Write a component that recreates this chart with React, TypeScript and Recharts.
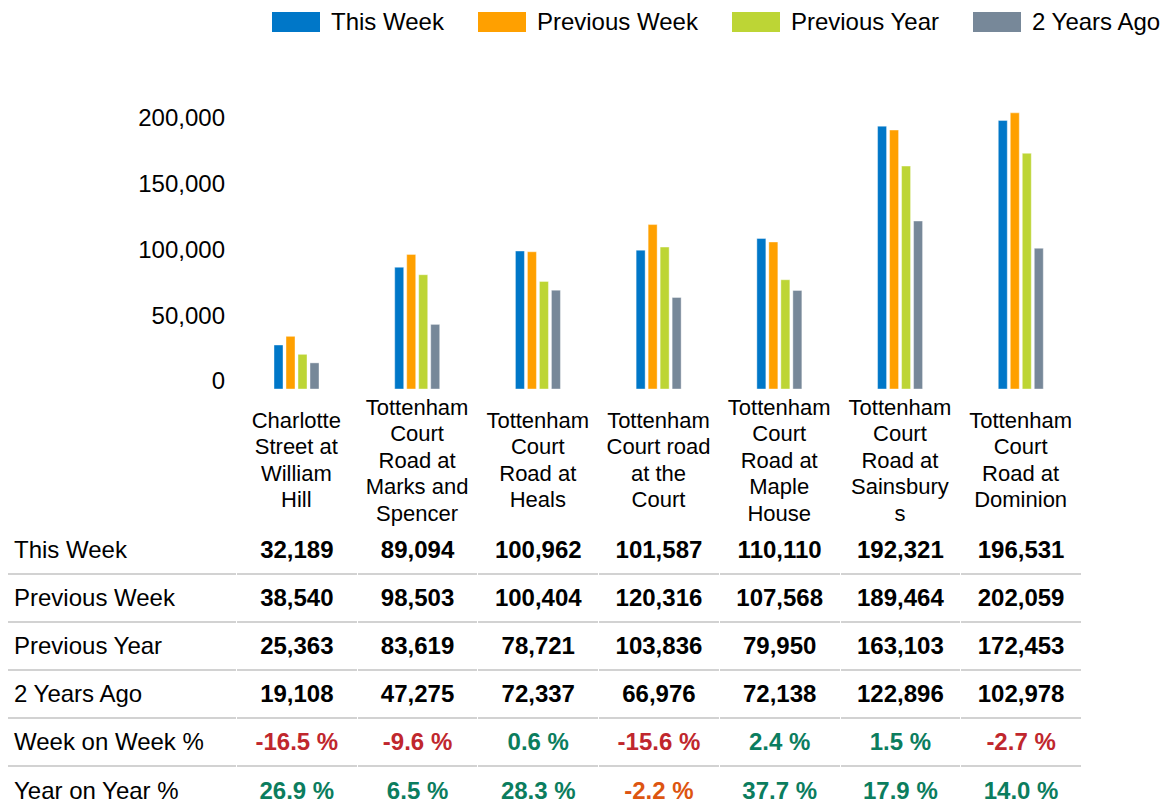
import React from "react";
import { BarChart, Bar, XAxis, YAxis } from "recharts";

const categories = [
  "Charlotte\nStreet at\nWilliam\nHill",
  "Tottenham\nCourt\nRoad at\nMarks and\nSpencer",
  "Tottenham\nCourt\nRoad at\nHeals",
  "Tottenham\nCourt road\nat the\nCourt",
  "Tottenham\nCourt\nRoad at\nMaple\nHouse",
  "Tottenham\nCourt\nRoad at\nSainsbury\ns",
  "Tottenham\nCourt\nRoad at\nDominion",
];

const thisWeek = [32189, 89094, 100962, 101587, 110110, 192321, 196531];
const previousWeek = [38540, 98503, 100404, 120316, 107568, 189464, 202059];
const previousYear = [25363, 83619, 78721, 103836, 79950, 163103, 172453];
const twoYearsAgo = [19108, 47275, 72337, 66976, 72138, 122896, 102978];
const weekOnWeek = [-16.5, -9.6, 0.6, -15.6, 2.4, 1.5, -2.7];
const yearOnYear = [26.9, 6.5, 28.3, -2.2, 37.7, 17.9, 14.0];
const yTicks = [0, 50000, 100000, 150000, 200000];

const series = [
  { key: "thisWeek", name: "This Week", color: "#0077c8", values: thisWeek },
  { key: "previousWeek", name: "Previous Week", color: "#ffa000", values: previousWeek },
  { key: "previousYear", name: "Previous Year", color: "#bdd535", values: previousYear },
  { key: "twoYearsAgo", name: "2 Years Ago", color: "#778899", values: twoYearsAgo },
];

const data = categories.map((category, i) => {
  const row: Record<string, string | number> = { category };
  series.forEach((s) => (row[s.key] = s.values[i]));
  return row;
});

const FONT = "'Liberation Sans', Arial, sans-serif";
const fmt = (v: number) => v.toLocaleString("en-US");

function CategoryTick({ x, y, payload }: any) {
  const lines: string[] = String(payload.value).split("\n");
  const lh = 26.5;
  const first = 63 - ((lines.length - 1) * lh) / 2;
  return (
    <text x={x} y={y} textAnchor="middle" fontSize={22} fill="#000" fontFamily={FONT}>
      {lines.map((line, i) => (
        <tspan key={i} x={x} y={y + first + i * lh} dy="0.35em">
          {line}
        </tspan>
      ))}
    </text>
  );
}

// the value labels sit a little tighter than the bar scale in the original
function ValueTick({ x, y, payload }: any) {
  const shift = -8 + (payload.value / 200000) * 10;
  return (
    <text x={x} y={y + shift} dy="0.35em" textAnchor="end" fontSize={24} fill="#000" fontFamily={FONT}>
      {fmt(payload.value)}
    </text>
  );
}

const pctRows = [
  { label: "Week on Week %", values: weekOnWeek, negColor: "#c0272d" },
  { label: "Year on Year %", values: yearOnYear, negColor: "#dd5510" },
];

const numRows = series.map((s) => ({ label: s.name, values: s.values }));

const colW = 845 / 7;

function Row({ label, cells, last }: { label: string; cells: { text: string; color: string }[]; last: boolean }) {
  const line = last ? "none" : "2px solid #d2d2d2";
  return (
    <div style={{ display: "flex", height: 48, alignItems: "center" }}>
      <div style={{ width: 228, height: 48, boxSizing: "border-box", borderBottom: line, paddingLeft: 6, display: "flex", alignItems: "center", fontSize: 24 }}>
        {label}
      </div>
      {cells.map((c, i) => (
        <div
          key={i}
          style={{
            width: colW - 1,
            marginLeft: 1,
            height: 48,
            boxSizing: "border-box",
            borderBottom: line,
            display: "flex",
            alignItems: "center",
            justifyContent: "center",
            fontWeight: "bold",
            fontSize: 24,
            color: c.color,
          }}
        >
          {c.text}
        </div>
      ))}
    </div>
  );
}

export default function App() {
  const rows = [
    ...numRows.map((r) => ({ label: r.label, cells: r.values.map((v) => ({ text: fmt(v), color: "#000" })) })),
    ...pctRows.map((r) => ({
      label: r.label,
      cells: r.values.map((v) => ({ text: `${v.toFixed(1)} %`, color: v < 0 ? r.negColor : "#0b7d5e" })),
    })),
  ];

  return (
    <div style={{ position: "absolute", left: 0, top: 0, width: 1163, height: 811, background: "#fff", fontFamily: FONT }}>
      <div style={{ position: "absolute", top: 8, left: 272, display: "flex", alignItems: "center", height: 28, whiteSpace: "nowrap" }}>
        {series.map((s, i) => (
          <div key={s.key} style={{ display: "flex", alignItems: "center", marginLeft: i === 0 ? 0 : 34 }}>
            <div style={{ width: 48, height: 20, background: s.color, marginRight: 11 }} />
            <span style={{ fontSize: 24, color: "#000" }}>{s.name}</span>
          </div>
        ))}
      </div>

      <div style={{ position: "absolute", left: 0, top: 0 }}>
        <BarChart
          width={1163}
          height={540}
          data={data}
          margin={{ top: 102, right: 82, bottom: 1, left: 0 }}
          barSize={9}
          barGap={3}
        >
          <XAxis
            dataKey="category"
            axisLine={false}
            tickLine={false}
            interval={0}
            height={150}
            tick={<CategoryTick />}
          />
          <YAxis
            width={236}
            domain={[0, 210000]}
            ticks={yTicks}
            axisLine={false}
            tickLine={false}
            tickMargin={5}
            tick={<ValueTick />}
          />
          {series.map((s) => (
            <Bar
              key={s.key}
              dataKey={s.key}
              name={s.name}
              fill={s.color}
              stroke="#ffffff"
              strokeOpacity={0.4}
              strokeWidth={1}
              isAnimationActive={false}
            />
          ))}
        </BarChart>
      </div>

      <div style={{ position: "absolute", left: 8, top: 527, color: "#000" }}>
        {rows.map((r, i) => (
          <Row key={r.label} label={r.label} cells={r.cells} last={i === rows.length - 1} />
        ))}
      </div>
    </div>
  );
}
